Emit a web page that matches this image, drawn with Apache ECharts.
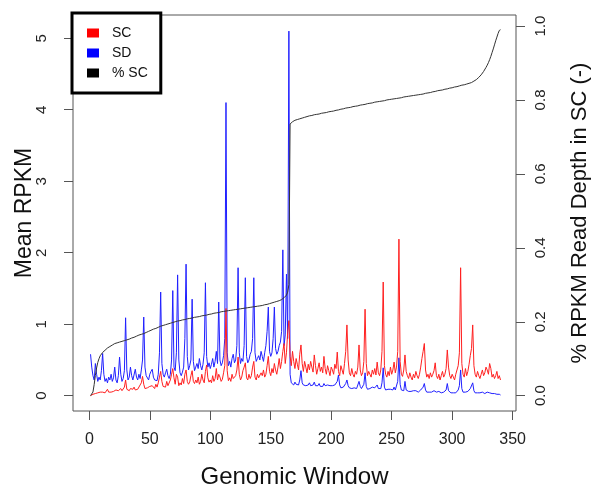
<!DOCTYPE html>
<html>
<head>
<meta charset="utf-8">
<script src="https://cdn.jsdelivr.net/npm/echarts@6/dist/echarts.min.js"></script>
<style>
html, body { margin: 0; padding: 0; background: #fff; }
#chart { width: 596px; height: 490px; }
</style>
</head>
<body>
<div id="chart"></div>
<script>
// mean RPKM per genomic window (1..340)
var sc = [
  0.00,0.01,0.02,0.02,0.03,0.03,0.04,0.03,0.05,0.04,0.05,0.06,0.04,0.05,0.09,0.05,0.06,0.05,0.07,0.06,
  0.06,0.08,0.06,0.07,0.06,0.10,0.07,0.08,0.12,0.22,0.09,0.08,0.07,0.10,0.08,0.09,0.12,0.08,0.10,0.09,
  0.11,0.15,0.18,0.27,0.16,0.10,0.12,0.11,0.09,0.13,0.11,0.14,0.12,0.10,0.16,0.12,0.18,0.26,0.34,0.20,
  0.13,0.15,0.12,0.20,0.14,0.13,0.22,0.30,0.38,0.25,0.16,0.30,0.26,0.14,0.18,0.15,0.24,0.17,0.30,0.36,
  0.20,0.16,0.19,0.28,0.35,0.20,0.17,0.22,0.18,0.26,0.16,0.20,0.30,0.22,0.18,0.34,0.43,0.25,0.19,0.22,
  0.18,0.28,0.20,0.24,0.38,0.22,0.30,0.26,0.20,0.23,0.32,0.42,1.22,0.35,0.21,0.25,0.20,0.30,0.24,0.22,
  0.28,0.36,0.54,0.30,0.22,0.26,0.35,0.40,0.46,0.25,0.22,0.30,0.24,0.28,0.40,0.48,0.26,0.22,0.30,0.25,
  0.24,0.32,0.28,0.36,0.26,0.30,0.42,0.55,0.34,0.28,0.38,0.32,0.45,0.36,0.30,0.40,0.52,0.38,0.48,0.62,
  0.73,0.45,0.60,0.88,1.05,0.55,0.42,0.62,0.48,0.38,0.52,0.44,0.36,0.58,0.71,0.45,0.34,0.48,0.40,0.32,
  0.44,0.36,0.48,0.40,0.33,0.57,0.42,0.30,0.38,0.46,0.34,0.40,0.32,0.55,0.38,0.30,0.42,0.35,0.28,0.40,
  0.36,0.30,0.44,0.38,0.61,0.34,0.28,0.42,0.36,0.30,0.45,0.62,0.99,0.50,0.32,0.28,0.38,0.30,0.26,0.34,
  0.30,0.40,0.71,0.36,0.28,0.32,0.48,1.21,0.45,0.28,0.34,0.30,0.26,0.36,0.30,0.38,0.29,0.47,0.32,0.28,
  0.36,0.62,1.59,0.42,0.30,0.26,0.34,0.28,0.40,0.30,0.36,0.47,0.32,0.40,0.62,2.19,0.48,0.30,0.27,0.36,
  0.57,0.34,0.28,0.24,0.32,0.26,0.22,0.30,0.25,0.34,0.28,0.24,0.30,0.40,0.52,0.62,0.73,0.36,0.26,0.30,
  0.24,0.32,0.26,0.30,0.35,0.46,0.28,0.24,0.30,0.22,0.28,0.34,0.26,0.30,0.38,0.64,0.40,0.28,0.24,0.30,
  0.26,0.22,0.30,0.36,0.42,0.60,1.79,0.45,0.30,0.26,0.38,0.28,0.34,0.44,0.56,0.66,0.99,0.42,0.30,0.26,
  0.34,0.28,0.24,0.30,0.36,0.28,0.32,0.40,0.36,0.30,0.45,0.38,0.26,0.30,0.24,0.28,0.34,0.24,0.28,0.22
];

var sd = [
  0.58,0.40,0.28,0.22,0.45,0.30,0.20,0.26,0.22,0.35,0.59,0.30,0.20,0.24,0.18,0.26,0.22,0.30,0.20,0.25,
  0.40,0.22,0.18,0.28,0.54,0.30,0.20,0.24,0.35,1.09,0.36,0.22,0.26,0.40,0.28,0.22,0.20,0.37,0.26,0.22,
  0.30,0.24,0.36,0.50,1.10,0.40,0.28,0.26,0.22,0.30,0.34,0.37,0.26,0.22,0.20,0.21,0.30,0.60,1.45,0.45,
  0.30,0.26,0.32,0.37,0.28,0.24,0.30,0.50,1.47,0.40,0.35,0.60,1.69,0.50,0.32,0.28,0.33,0.40,0.80,1.84,
  0.55,0.36,0.42,0.50,1.35,0.48,0.35,0.40,0.45,0.38,0.52,0.42,0.36,0.44,0.60,1.58,0.55,0.40,0.46,0.38,
  0.44,0.52,0.40,0.48,0.62,0.45,1.31,0.50,0.42,0.46,0.56,0.80,4.10,0.60,0.42,0.48,0.40,0.52,0.58,0.46,
  0.50,0.70,1.79,0.60,0.45,0.52,0.48,0.70,1.65,0.55,0.46,0.50,0.58,0.62,0.80,1.65,0.60,0.48,0.52,0.56,
  0.50,0.62,0.55,0.48,0.60,0.70,0.90,1.24,0.62,0.55,0.60,0.80,1.24,0.66,0.58,0.62,0.70,0.75,0.90,2.04,
  0.70,0.85,1.70,0.80,5.10,0.30,0.18,0.20,0.15,0.19,0.16,0.18,0.15,0.22,0.35,0.18,0.15,0.17,0.14,0.16,
  0.15,0.18,0.14,0.16,0.15,0.19,0.14,0.16,0.14,0.17,0.13,0.15,0.13,0.17,0.14,0.12,0.15,0.13,0.14,0.12,
  0.14,0.12,0.15,0.13,0.20,0.29,0.15,0.11,0.13,0.12,0.14,0.17,0.22,0.14,0.11,0.12,0.10,0.12,0.11,0.13,
  0.10,0.12,0.20,0.13,0.10,0.12,0.16,0.32,0.13,0.09,0.11,0.10,0.09,0.12,0.10,0.11,0.09,0.15,0.10,0.09,
  0.10,0.18,0.39,0.12,0.08,0.07,0.09,0.08,0.09,0.07,0.08,0.12,0.08,0.10,0.20,0.53,0.16,0.08,0.07,0.07,
  0.20,0.08,0.07,0.06,0.07,0.06,0.06,0.07,0.06,0.07,0.06,0.05,0.06,0.08,0.10,0.12,0.17,0.08,0.05,0.06,
  0.05,0.06,0.05,0.06,0.07,0.08,0.05,0.04,0.06,0.05,0.04,0.06,0.05,0.06,0.08,0.17,0.07,0.05,0.04,0.05,
  0.04,0.05,0.04,0.06,0.08,0.14,0.36,0.10,0.05,0.04,0.05,0.04,0.06,0.08,0.10,0.12,0.18,0.07,0.04,0.05,
  0.04,0.05,0.04,0.04,0.05,0.04,0.03,0.04,0.05,0.04,0.04,0.05,0.03,0.04,0.03,0.03,0.02,0.02,0.02,0.01
];

// share of RPKM read depth in SC (right axis)
var pctSc = [
  0.000,0.002,0.010,0.030,0.055,0.075,0.090,0.100,0.108,0.113,0.117,0.120,0.123,0.126,0.129,0.131,0.133,0.135,0.137,0.139,
  0.141,0.142,0.143,0.144,0.145,0.146,0.147,0.148,0.149,0.150,0.151,0.152,0.153,0.155,0.156,0.157,0.158,0.160,0.161,0.163,
  0.164,0.165,0.166,0.167,0.168,0.170,0.171,0.173,0.174,0.176,0.177,0.178,0.180,0.181,0.182,0.183,0.185,0.186,0.188,0.189,
  0.190,0.191,0.192,0.193,0.194,0.195,0.196,0.197,0.198,0.200,0.200,0.201,0.202,0.202,0.203,0.204,0.205,0.206,0.206,0.207,
  0.208,0.208,0.209,0.210,0.210,0.211,0.212,0.212,0.213,0.214,0.214,0.215,0.216,0.216,0.217,0.218,0.218,0.219,0.220,0.221,
  0.221,0.222,0.223,0.223,0.224,0.225,0.225,0.226,0.227,0.228,0.228,0.229,0.229,0.230,0.230,0.231,0.231,0.232,0.232,0.233,
  0.233,0.234,0.234,0.235,0.235,0.236,0.236,0.237,0.237,0.238,0.238,0.239,0.239,0.240,0.240,0.241,0.241,0.242,0.242,0.243,
  0.243,0.244,0.244,0.245,0.246,0.246,0.247,0.248,0.249,0.250,0.251,0.252,0.253,0.254,0.255,0.256,0.257,0.259,0.260,0.262,
  0.265,0.268,0.272,0.280,0.300,0.735,0.739,0.741,0.743,0.745,0.746,0.747,0.748,0.749,0.750,0.751,0.752,0.753,0.754,0.755,
  0.756,0.757,0.757,0.758,0.759,0.760,0.760,0.761,0.762,0.762,0.763,0.764,0.764,0.765,0.766,0.766,0.767,0.768,0.768,0.769,
  0.770,0.770,0.771,0.772,0.773,0.773,0.774,0.775,0.776,0.776,0.777,0.778,0.778,0.779,0.780,0.780,0.781,0.782,0.782,0.783,
  0.784,0.784,0.785,0.786,0.786,0.787,0.788,0.788,0.789,0.790,0.790,0.791,0.792,0.792,0.793,0.794,0.794,0.795,0.795,0.796,
  0.797,0.797,0.798,0.798,0.799,0.800,0.800,0.801,0.801,0.802,0.802,0.803,0.804,0.804,0.805,0.805,0.806,0.806,0.807,0.808,
  0.808,0.809,0.809,0.810,0.810,0.811,0.811,0.812,0.812,0.813,0.813,0.814,0.815,0.815,0.816,0.816,0.817,0.818,0.818,0.819,
  0.820,0.820,0.821,0.822,0.822,0.823,0.824,0.825,0.825,0.826,0.827,0.827,0.828,0.829,0.830,0.830,0.831,0.832,0.833,0.833,
  0.834,0.835,0.836,0.836,0.837,0.838,0.839,0.840,0.840,0.841,0.842,0.843,0.844,0.845,0.846,0.847,0.849,0.851,0.853,0.855,
  0.858,0.861,0.864,0.868,0.872,0.877,0.882,0.888,0.894,0.901,0.909,0.918,0.928,0.938,0.949,0.960,0.970,0.980,0.988,0.990
];

var xTicks = [0, 50, 100, 150, 200, 250, 300, 350];
var leftTicks = [0, 1, 2, 3, 4, 5];
var rightTicks = [0, 0.2, 0.4, 0.6, 0.8, 1.0];

var FONT = '"Liberation Sans", Arial, Helvetica, sans-serif';
var AXIS_COLOR = '#555';

function pairs(arr) {
  return arr.map(function (v, i) { return [i + 1, v]; });
}

var chart = echarts.init(document.getElementById('chart'));

var option = {
  animation: false,
  backgroundColor: '#fff',
  textStyle: { fontFamily: FONT },
  grid: {
    left: 73, top: 15, width: 443, height: 396,
    show: true, borderColor: AXIS_COLOR, borderWidth: 1,
    backgroundColor: 'transparent',
    containLabel: false,
    outerBoundsMode: 'none'
  },
  legend: {
    orient: 'vertical',
    left: 72, top: 13,
    selectedMode: false,
    backgroundColor: '#fff',
    borderColor: '#000',
    borderWidth: 3,
    padding: [13, 13, 13, 15],
    itemWidth: 12,
    itemHeight: 9,
    itemGap: 6,
    textStyle: { fontSize: 14, color: '#111', fontFamily: FONT, lineHeight: 14, padding: [0, 0, 0, 8] },
    data: [
      { name: 'SC', icon: 'rect', itemStyle: { color: '#ff0000' } },
      { name: 'SD', icon: 'rect', itemStyle: { color: '#0000ff' } },
      { name: '% SC', icon: 'rect', itemStyle: { color: '#000000' } }
    ]
  },
  xAxis: {
    type: 'value',
    min: -13.5, max: 352.8,
    name: 'Genomic Window',
    nameLocation: 'middle',
    nameGap: 54,
    nameMoveOverlap: false,
    nameTextStyle: { fontSize: 24, color: '#111', fontFamily: FONT },
    splitLine: { show: false },
    axisLine: { show: false, onZero: false },
    axisTick: { show: true, length: 9, customValues: xTicks, lineStyle: { color: AXIS_COLOR } },
    axisLabel: { customValues: xTicks, fontSize: 16, color: '#222', margin: 21, fontFamily: FONT }
  },
  yAxis: [
    {
      type: 'value',
      min: -0.214, max: 5.325,
      name: 'Mean RPKM',
      nameLocation: 'middle',
      nameGap: 37,
      nameMoveOverlap: false,
      nameTextStyle: { fontSize: 23, color: '#111', fontFamily: FONT },
      splitLine: { show: false },
      axisLine: { show: false, onZero: false },
      axisTick: { show: true, length: 9, customValues: leftTicks, lineStyle: { color: AXIS_COLOR } },
      axisLabel: { customValues: leftTicks, rotate: 90, fontSize: 15, color: '#222', margin: 24, fontFamily: FONT }
    },
    {
      type: 'value',
      position: 'right',
      min: -0.0414, max: 1.0298,
      name: '% RPKM Read Depth in SC (-)',
      nameLocation: 'middle',
      nameGap: 53,
      nameMoveOverlap: false,
      nameTextStyle: { fontSize: 22, color: '#111', fontFamily: FONT },
      splitLine: { show: false },
      axisLine: { show: false, onZero: false },
      axisTick: { show: true, length: 9, customValues: rightTicks, lineStyle: { color: AXIS_COLOR } },
      axisLabel: {
        customValues: rightTicks, rotate: 90, fontSize: 15, color: '#222', margin: 17, fontFamily: FONT,
        formatter: function (v) { return v.toFixed(1); }
      }
    }
  ],
  series: [
    {
      name: 'SD', type: 'line', yAxisIndex: 0, data: pairs(sd),
      showSymbol: false, symbol: 'none', silent: true,
      lineStyle: { width: 1, color: '#2020ff' }, itemStyle: { color: '#0000ff' }
    },
    {
      name: 'SC', type: 'line', yAxisIndex: 0, data: pairs(sc),
      showSymbol: false, symbol: 'none', silent: true,
      lineStyle: { width: 1, color: '#ff2020' }, itemStyle: { color: '#ff0000' }
    },
    {
      name: '% SC', type: 'line', yAxisIndex: 1, data: pairs(pctSc),
      showSymbol: false, symbol: 'none', silent: true,
      lineStyle: { width: 1, color: '#333' }, itemStyle: { color: '#000' }
    }
  ]
};

chart.setOption(option);
</script>
</body>
</html>
